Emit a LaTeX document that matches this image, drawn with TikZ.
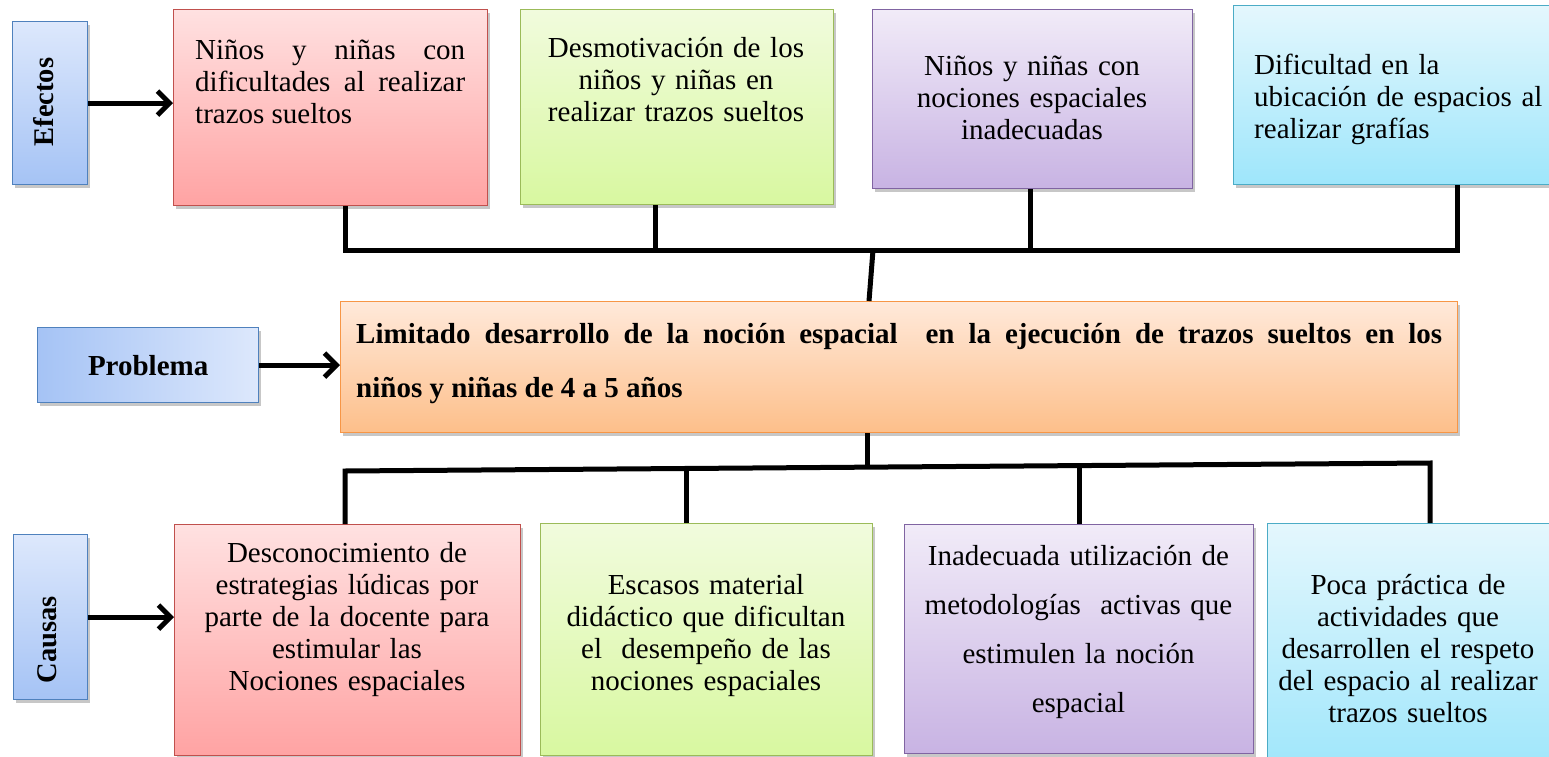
\documentclass[tikz,border=0pt]{standalone}
\usepackage{fontspec}
\setmainfont{Liberation Serif}
\usetikzlibrary{shadows,arrows.meta,calc}
\definecolor{redT}{HTML}{FFE1E1}\definecolor{redD}{HTML}{FFA3A3}\definecolor{redB}{HTML}{C0504D}
\definecolor{grnT}{HTML}{F1FBDD}\definecolor{grnD}{HTML}{D8F8A0}\definecolor{grnB}{HTML}{9BBB59}
\definecolor{purT}{HTML}{F1EBF8}\definecolor{purD}{HTML}{C8B3E3}\definecolor{purB}{HTML}{8064A2}
\definecolor{cyaT}{HTML}{E4F7FD}\definecolor{cyaD}{HTML}{9EE6FB}\definecolor{cyaB}{HTML}{4BACC6}
\definecolor{orT}{HTML}{FFE9DA}\definecolor{orD}{HTML}{FDBF8A}\definecolor{orB}{HTML}{F79646}
\definecolor{bluT}{HTML}{DDE8FC}\definecolor{bluD}{HTML}{A5C3F5}\definecolor{bluB}{HTML}{4F81BD}
\begin{document}
\begin{tikzpicture}[x=1pt,y=-1pt,
  box/.style={rectangle, draw, line width=1.3pt, inner sep=0pt, anchor=north west,
    drop shadow={shadow xshift=2pt, shadow yshift=-3pt, opacity=0.22, fill=black}},
  redbox/.style={box, draw=redB, top color=redT, bottom color=redD},
  grnbox/.style={box, draw=grnB, top color=grnT, bottom color=grnD},
  purbox/.style={box, draw=purB, top color=purT, bottom color=purD},
  cyabox/.style={box, draw=cyaB, top color=cyaT, bottom color=cyaD},
  orbox/.style={box, draw=orB, top color=orT, bottom color=orD},
  bluvbox/.style={box, draw=bluB, top color=bluT, bottom color=bluD},
  bluhbox/.style={box, draw=bluB, left color=bluD, right color=bluT},
  txt/.style={inner sep=0pt, font=\fontsize{29}{32}\selectfont},
  ctxt/.style={txt, anchor=north, text width=340pt, align=center},
  sidelabel/.style={inner sep=0pt, font=\bfseries\fontsize{28.5}{32}\selectfont, rotate=90, anchor=base},
  conn/.style={line width=5pt, black},
  arr/.style={line width=5pt, -{Straight Barb[length=12pt,width=24pt]}}
]
\path[use as bounding box, clip] (0,0) rectangle (1549,757);
\fill[white] (0,0) rectangle (1549,757);

% ---------- Effects row ----------
\node[bluvbox, minimum width=75pt, minimum height=163pt] (effbox) at (12,21) {};
\node[sidelabel] (efftxt) at (53,102) {Efectos};
\node[redbox, minimum width=314pt, minimum height=196pt] (e1) at (173,9) {};
\node[grnbox, minimum width=313pt, minimum height=195pt] (e2) at (520,9) {};
\node[purbox, minimum width=320pt, minimum height=179pt] (e3) at (872,9) {};
\node[cyabox, minimum width=330pt, minimum height=179pt] (e4) at (1233,5) {};

\node[txt, anchor=north west, text width=270pt, align=justify] (e1t) at (195,36.6)
  {\strut Niños y niñas con\linebreak dificultades al realizar\linebreak trazos sueltos};
\node[ctxt] (e2t) at (676,34.6)
  {\strut Desmotivación de los\\niños y niñas en\\realizar trazos sueltos};
\node[ctxt] (e3t) at (1032,52.6)
  {\strut Niños y niñas con\\nociones espaciales\\inadecuadas};
\node[txt, anchor=north west, text width=300pt, align=left] (e4t) at (1254,51.6)
  {\strut Dificultad en la\\ubicación de espacios al\\realizar grafías};

% effects connectors
\coordinate (b1) at (345,250);
\coordinate (b2) at (655,250);
\coordinate (b3) at (1030,250);
\coordinate (b4) at (1457,250);
\coordinate (bc) at (873,250);
\coordinate (pcx) at (869,0);
\draw[conn] (b1 |- e1.south) -- (b1) -- (b4) -- (b4 |- e4.south);
\draw[conn] (b2 |- e2.south) -- (b2);
\draw[conn] (b3 |- e3.south) -- (b3);

% ---------- Problem row ----------
\node[bluhbox, minimum width=221pt, minimum height=75pt,
      font=\bfseries\fontsize{29}{32}\selectfont] (plab) at (37,327) {Problema};
\node[orbox, minimum width=1117pt, minimum height=131pt] (prob) at (340,301) {};
\node[txt, anchor=north west, text width=1086pt, align=justify,
      font=\bfseries\fontsize{29}{54}\selectfont] (probt) at (356,305.2)
  {\strut Limitado desarrollo de la noción espacial \ en la ejecución de trazos sueltos en los\linebreak niños y niñas de 4 a 5 años};
\draw[conn] (bc) -- (prob.north -| pcx);
\draw[arr] (plab.east) -- (plab.east -| prob.west);

% ---------- Causes row ----------
\node[bluvbox, minimum width=74pt, minimum height=165pt] (cbox) at (13,534) {};
\node[sidelabel] (ctxtl) at (56,640) {Causas};
\node[redbox, minimum width=346pt, minimum height=231pt] (c1) at (174,524) {};
\node[grnbox, minimum width=332pt, minimum height=232pt] (c2) at (540,523) {};
\node[purbox, minimum width=349pt, minimum height=229pt] (c3) at (904,524) {};
\node[cyabox, minimum width=300pt, minimum height=250pt] (c4) at (1267,523) {};

\node[ctxt] (c1t) at (347,539.6)
  {\strut Desconocimiento de\\estrategias lúdicas por\\parte de la docente para\\estimular las\\Nociones espaciales};
\node[ctxt] (c2t) at (706,571.6)
  {\strut Escasos material\\didáctico que dificultan\\el \ desempeño de las\\nociones espaciales};
\node[ctxt, font=\fontsize{29}{49}\selectfont] (c3t) at (1078.5,530.7)
  {\strut Inadecuada utilización de\\metodologías \ activas que\\estimulen la noción\\espacial};
\node[ctxt] (c4t) at (1408,571.6)
  {\strut Poca práctica de\\actividades que\\desarrollen el respeto\\del espacio al realizar\\trazos sueltos};

% causes connectors
\coordinate (k1) at (345,471);
\coordinate (k4) at (1430,463);
\coordinate (k2) at ($(k1)!0.3143!(k4)$);
\coordinate (kc) at ($(k1)!0.4820!(k4)$);
\coordinate (k3) at ($(k1)!0.6765!(k4)$);
\draw[conn] (c1.north -| k1) -- (k1) -- (k4) -- (c4.north -| k4);
\draw[conn] (kc) -- (prob.south -| kc);
\draw[conn] (k2) -- (c2.north -| k2);
\draw[conn] (k3) -- (c3.north -| k3);

% arrows
\draw[arr] (effbox.east) -- (effbox.east -| e1.west);
\draw[arr] (cbox.east) -- (cbox.east -| c1.west);
\end{tikzpicture}
\end{document}
